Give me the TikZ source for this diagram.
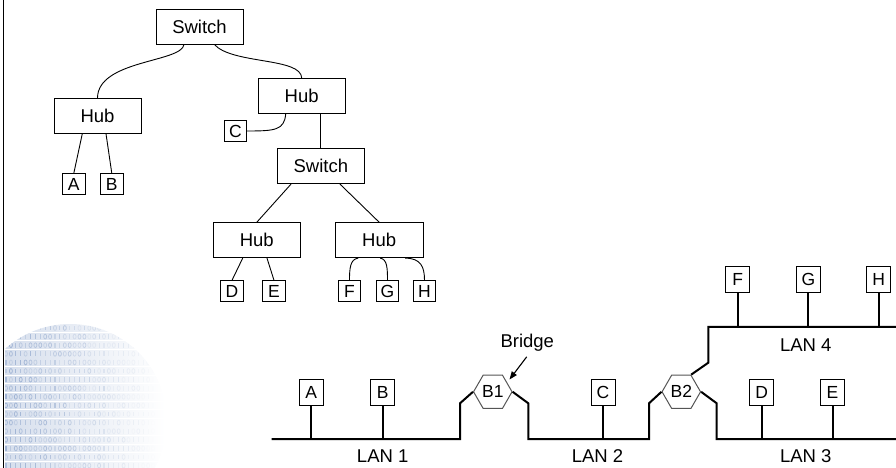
\documentclass[tikz,border=0pt]{standalone}
\usepackage{fontspec}
\setmainfont{Liberation Sans}
\usetikzlibrary{shapes.geometric,arrows.meta,calc}
\definecolor{globeblue}{RGB}{150,172,208}
\definecolor{hexgray}{RGB}{85,85,85}

\begin{document}
\begin{tikzpicture}[x=1bp,y=-1bp,
  txt/.style={font=\fontsize{18.5bp}{20bp}\selectfont, inner sep=0pt},
  unit/.style={txt, draw, line width=0.9bp, minimum width=87bp, minimum height=35bp},
  pc/.style={draw, line width=0.9bp, minimum width=22.5bp, minimum height=20.5bp,
    inner sep=0pt, font=\fontsize{17.5bp}{19bp}\selectfont},
  station/.style={draw, line width=1bp, minimum width=24bp, minimum height=26bp,
    inner sep=0pt, font=\fontsize{17.5bp}{19bp}\selectfont},
  bridgebox/.style={draw=hexgray, line width=1bp, regular polygon, regular polygon sides=6,
    minimum size=38.5bp, inner sep=0pt, font=\fontsize{17.5bp}{19bp}\selectfont},
  wire/.style={line width=0.9bp},
  bus/.style={line width=2bp},
]
\useasboundingbox (0,0) rectangle (896,468);

% faint binary globe in the lower left corner
\begin{scope}
  \clip (5,0) rectangle (200,468);
  \clip (70,421) circle (97);
  \pgfmathsetseed{12}
  \foreach \r in {0,...,16} {
    \pgfmathsetmacro\yy{328+\r*8.6}
    \shade[left color=globeblue!40, right color=white] (0,\yy-3.4) rectangle (165,\yy+3.4);
    \foreach \c in {0,...,33} {
      \pgfmathsetmacro\xx{6+\c*4.9}
      \pgfmathsetmacro\op{max(0,1.0-(\xx-6)/150)*(0.3+0.6*rnd)}
      \pgfmathrandominteger\dg{0}{1}
      \ifnum\dg=0
        \draw[globeblue, line width=0.8bp, opacity=\op] (\xx,\yy) ellipse (1.5 and 2.4);
      \else
        \fill[globeblue, opacity=\op] (\xx-0.55,\yy-2.4) rectangle (\xx+0.55,\yy+2.4);
      \fi
    }
  }
\end{scope}

% left frame rule
\draw[line width=1.3bp] (3.5,0) -- (3.5,468);

% ---------- switch / hub tree ----------
\node[unit] (sw1)    at (199.5,26.5)  {Switch};
\node[unit] (hubL)   at (97.5,115.8)  {Hub};
\node[unit] (hubR)   at (301.7,96.2)  {Hub};
\node[unit] (sw2)    at (320.8,166.2) {Switch};
\node[unit] (hubDE)  at (256.8,240.2) {Hub};
\node[unit, minimum width=88bp] (hubFGH) at (379.2,240.2) {Hub};

\node[pc] (tC) at (235.4,131) {C};
\node[pc] (tA) at (73.8,184)  {A};
\node[pc] (tB) at (111.8,184) {B};
\node[pc] (tD) at (232,291)   {D};
\node[pc] (tE) at (274,291)   {E};
\node[pc] (tF) at (349.5,291) {F};
\node[pc] (tG) at (387.5,291) {G};
\node[pc] (tH) at (424.5,291) {H};

\draw[wire] ([xshift=-15.5bp]sw1.south) .. controls +(-2,18) and +(0.5,-38) .. (hubL.north);
\draw[wire] ([xshift=14.8bp]sw1.south) .. controls +(18,20) and +(0,-21) .. (hubR.north);
\draw[wire] ([xshift=-16bp]hubR.south) .. controls +(-1.5,16) and +(28,0) .. (tC.east);
\draw[wire] (sw2.north |- hubR.south) -- (sw2.north);
\draw[wire] ([xshift=-15.2bp]hubL.south) -- (tA.north);
\draw[wire] ([xshift=8.5bp]hubL.south) -- (tB.north);
\draw[wire] ([xshift=-29.8bp]sw2.south) -- (hubDE.north);
\draw[wire] ([xshift=19.2bp]sw2.south) -- (hubFGH.north);
\draw[wire] ([xshift=-14.1bp]hubDE.south) -- (tD.north);
\draw[wire] ([xshift=10.2bp]hubDE.south) -- (tE.north);
\draw[wire] ([xshift=-21bp]hubFGH.south) .. controls +(-8,1) and +(0,-12) .. (tF.north);
\draw[wire] ([xshift=1bp]hubFGH.south) .. controls +(7,1) and +(0,-12) .. (tG.north);
\draw[wire] ([xshift=26bp]hubFGH.south) .. controls +(16,0) and +(0,-13) .. (tH.north);

% ---------- bridged LANs ----------
\node[bridgebox] (b1) at (492.8,391.8) {B1};
\node[bridgebox] (b2) at (681.3,391.8) {B2};

\node[station] (sA) at (311.3,392.2) {A};
\node[station] (sB) at (382.8,392.2) {B};
\node[station] (sC) at (603,392.2)   {C};
\node[station] (sD) at (761.7,392.2) {D};
\node[station] (sE) at (832.5,392.2) {E};
\node[station] (sF) at (737.7,279.7) {F};
\node[station] (sG) at (808.3,279.7) {G};
\node[station] (sH) at (878.7,279.7) {H};

\coordinate (lan1w) at (271.7,439);
\coordinate (k1) at (460,403.3);
\coordinate (k2) at (528.3,403.3);
\coordinate (k3) at (649,403.3);
\coordinate (k4) at (716.7,403.3);
\coordinate (k5) at (708.3,362.7);
\coordinate (lan3e) at (896,439);
\coordinate (lan4e) at (896,327);

\draw[bus] (lan1w) -| (k1) -- (b1.180);
\draw[bus] (b1.0) -- (k2) |- (k3 |- lan1w) -- (k3) -- (b2.180);
\draw[bus] (b2.0) -- (k4) |- (lan3e);
\draw[bus] (b2.60) -- (k5) |- (lan4e);

\foreach \s in {sA,sB,sC,sD,sE}
  \draw[bus] (\s.south) -- (\s.south |- lan1w);
\foreach \s in {sF,sG,sH}
  \draw[bus] (\s.south) -- (\s.south |- lan4e);

\node[txt] (lan1) at (382.7,456.5) {LAN 1};
\node[txt] (lan2) at (597.5,456.5) {LAN 2};
\node[txt] (lan3) at (805.7,456.5) {LAN 3};
\node[txt] (lan4) at (805.7,345)   {LAN 4};

\node[txt] (brlbl) at (527.3,343) {Bridge};
\coordinate (brtip) at (509.5,379.5);
\draw[line width=1.1bp, -{Triangle[length=8bp,width=6bp]}] ($(brlbl.south)+(-0.6,5)$) -- (brtip);
\end{tikzpicture}
\end{document}
